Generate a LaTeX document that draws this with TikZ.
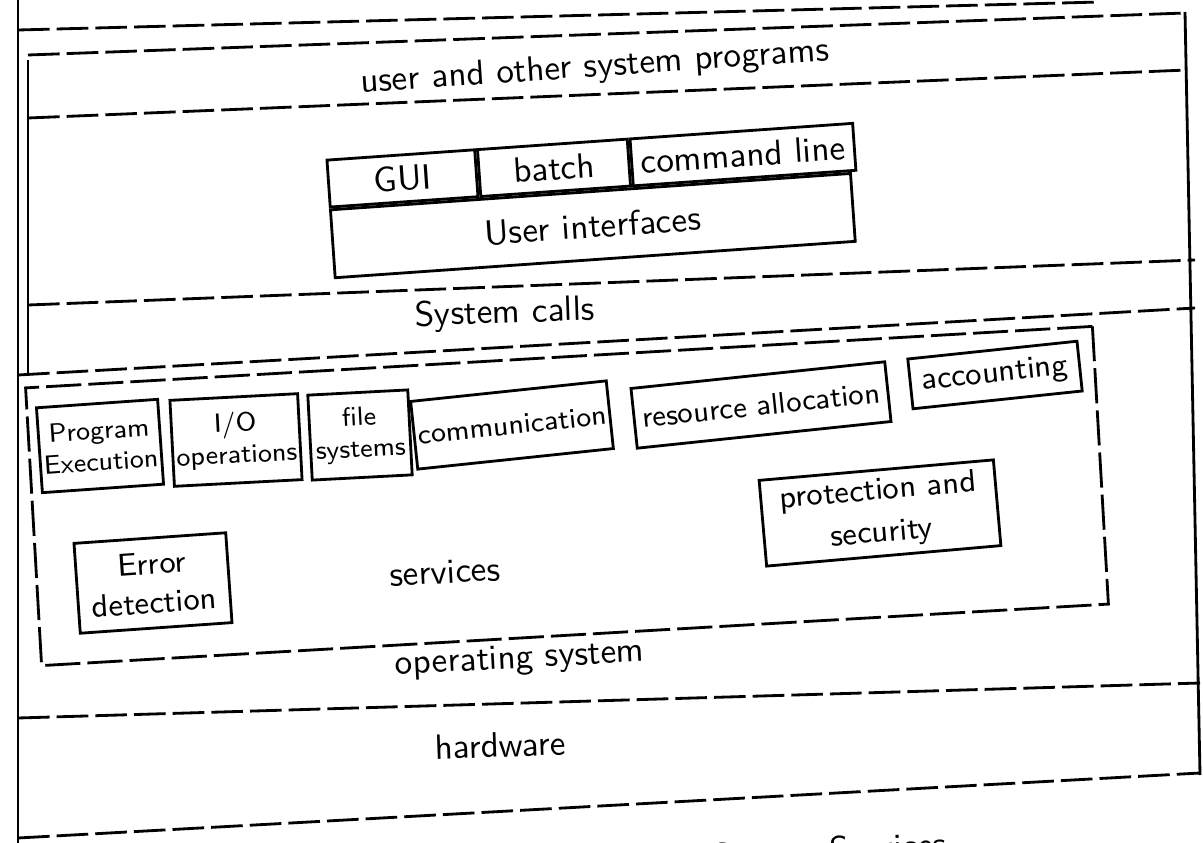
\documentclass[tikz,border=0pt]{standalone}
\usetikzlibrary{positioning}

\tikzset{
  band/.style={line width=0.8pt, dash pattern=on 9pt off 2pt},
  frame/.style={line width=0.8pt},
  svcframe/.style={draw, line width=0.8pt, dash pattern=on 10pt off 2pt, inner sep=0pt},
  svcbox/.style={draw, line width=0.8pt, align=center, inner sep=1pt, font=\sffamily\fontsize{7.5}{9}\selectfont},
  uicell/.style={draw, line width=0.8pt, inner sep=0pt, font=\sffamily},
  lbl/.style={font=\sffamily},
}

\begin{document}
\begin{tikzpicture}[x=0.01cm, y=-0.01cm]
\clip (0,0) rectangle (1203,843);
% page frame
\draw[frame] (18,0) -- (18,843);
\draw[frame] (28,60) -- (28,375);
\draw[frame] (1185,12) -- (1200,775);
% layer lines
\draw[band] (18,30) -- (1100,2);
\draw[band] (28,55) -- (1185,13);
\draw[band] (28,118) -- (1187,70);
\draw[band] (28,305) -- (1195,260);
\draw[band] (18,375) -- (1195,308);
\draw[band] (18,718) -- (1200,683);
\draw[band] (18,838) -- (1200,773);

\node[lbl, rotate=4] (progs) at (595,68) {user and other system programs};

% user interfaces
\begin{scope}[shift={(590,198)}, rotate=4, transform shape]
  \node[uicell, minimum width=1.48cm, minimum height=0.47cm, anchor=north west] (gui) at (-2.61cm,0.575cm) {GUI};
  \node[uicell, minimum width=1.5cm, minimum height=0.47cm, right=0pt of gui] (batch) {batch};
  \node[uicell, minimum width=2.23cm, minimum height=0.47cm, right=0pt of batch] (cmdline) {command line};
  \node[uicell, minimum width=5.21cm, minimum height=0.68cm, below right=0pt of gui.south west] (ui) {User interfaces};
\end{scope}

\node[lbl, rotate=2] (calls) at (505,314) {System calls};

% services
\node[svcframe, rotate=3.3, minimum width=10.68cm, minimum height=2.78cm] (svc) at (567,496) {};
\node[svcbox, rotate=4, minimum width=1.1cm, minimum height=0.85cm] (progex) at (100,446) {Program\\Execution};
\node[svcbox, rotate=3, minimum width=1.25cm, minimum height=0.86cm] (iops) at (236,440) {I/O\\operations};
\node[svcbox, rotate=3, minimum width=1.0cm, minimum height=0.85cm] (filesys) at (360,435) {file\\systems};
\node[svcbox, rotate=6, minimum width=1.7cm, minimum height=0.68cm, font=\sffamily\fontsize{8}{9}\selectfont] (comm) at (512,425) {communication};
\node[svcbox, rotate=6, minimum width=2.55cm, minimum height=0.6cm, font=\sffamily\fontsize{8.5}{10}\selectfont] (resalloc) at (761,405) {resource allocation};
\node[svcbox, rotate=6, minimum width=1.7cm, minimum height=0.5cm, font=\sffamily\fontsize{9}{10}\selectfont] (acct) at (995,375) {accounting};
\node[svcbox, rotate=5, minimum width=2.35cm, minimum height=0.86cm, font=\sffamily\fontsize{9}{12}\selectfont] (protsec) at (880,513) {protection and\\security};
\node[svcbox, rotate=4, minimum width=1.52cm, minimum height=0.9cm, font=\sffamily\fontsize{9}{11}\selectfont] (errdet) at (153,583) {Error\\detection};
\node[lbl, rotate=3] (svcs) at (445,572) {services};

\node[lbl, rotate=3] (os) at (520,660) {operating system};
\node[lbl, rotate=2] (hw) at (500,745) {hardware};
\node[lbl, rotate=3] (caption) at (830,853) {System Services};
\end{tikzpicture}
\end{document}
